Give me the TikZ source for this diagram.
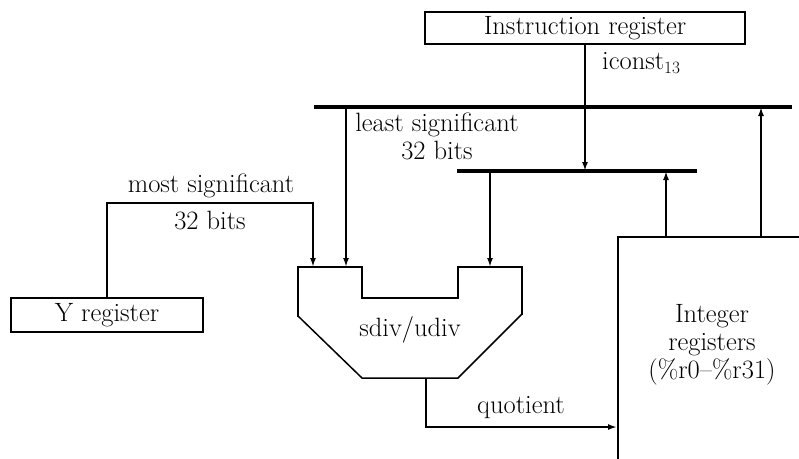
\documentclass[tikz,border=0pt]{standalone}
\usetikzlibrary{arrows.meta}
\begin{document}
\begin{tikzpicture}[x=1pt,y=-1pt,
  txt/.style={font=\fontsize{26.5}{28}\selectfont, inner sep=0pt},
  box/.style={draw, line width=2pt, inner sep=0pt, font=\fontsize{26.5}{28}\selectfont},
  bus/.style={line width=3.4pt},
  wire/.style={line width=2pt},
  arr/.style={wire, -{Latex[length=9pt,width=6pt]}},
  thickedge/.style={line width=2.8pt, line join=miter},
  thinedge/.style={line width=1.5pt}]
\useasboundingbox (0,0) rectangle (799,458);
% boxes
\node[box, minimum width=320pt, minimum height=32pt] (ir) at (585,28) {Instruction register};
\node[box, minimum width=192pt, minimum height=34pt] (yr) at (107,315) {Y register};
\node[box, anchor=north west, minimum width=220pt, minimum height=260pt] (intreg) at (617,236) {};
\node[txt, align=center] (intlbl) at (712,345) {Integer\\registers\\(\%r0--\%r31)};
% buses
\coordinate (b1w) at (314,107); \coordinate (b1e) at (792,107);
\coordinate (b2w) at (457,171); \coordinate (b2e) at (697,171);
\draw[bus] (b1w) -- (b1e);
\draw[bus] (b2w) -- (b2e);
% sdiv/udiv unit
\coordinate (inA) at (313,267); \coordinate (inB) at (346,267); \coordinate (inC) at (490,267);
\coordinate (sout) at (426,378);
\draw[thickedge] (298,317) -- (298,267) -- (362,267) -- (362,298) -- (458,298) -- (458,267) -- (522,267) -- (522,315);
\draw[thinedge] (522,314) -- (458,378) -- (362,378) -- (298,316);
\node[txt] (sdiv) at (410,330) {sdiv/udiv};
% connectors
\coordinate (irdown) at (585,171);
\draw[arr] (ir.south) -- (irdown);
\draw[arr] (b1w -| inB) -- (inB);
\draw[arr] (yr.north) -- (107,203) -| (inA);
\draw[arr] (b2w -| inC) -- (inC);
\coordinate (up1) at (666,236); \coordinate (up2) at (761,236);
\draw[arr] (up1) -- (up1 |- b2w);
\draw[arr] (up2) -- (up2 |- b1w);
\coordinate (qin) at (617,427);
\draw[arr] (sout) |- (qin);
% labels
\node[txt, anchor=west] (iconst) at (602,63) {iconst$_{13}$};
\node[txt, align=center] (lsb) at (437,136) {least significant\\32 bits};
\node[txt] (msb1) at (211,186) {most significant};
\node[txt] (msb2) at (210,221) {32 bits};
\node[txt] (quot) at (521,408) {quotient};
\end{tikzpicture}
\end{document}
